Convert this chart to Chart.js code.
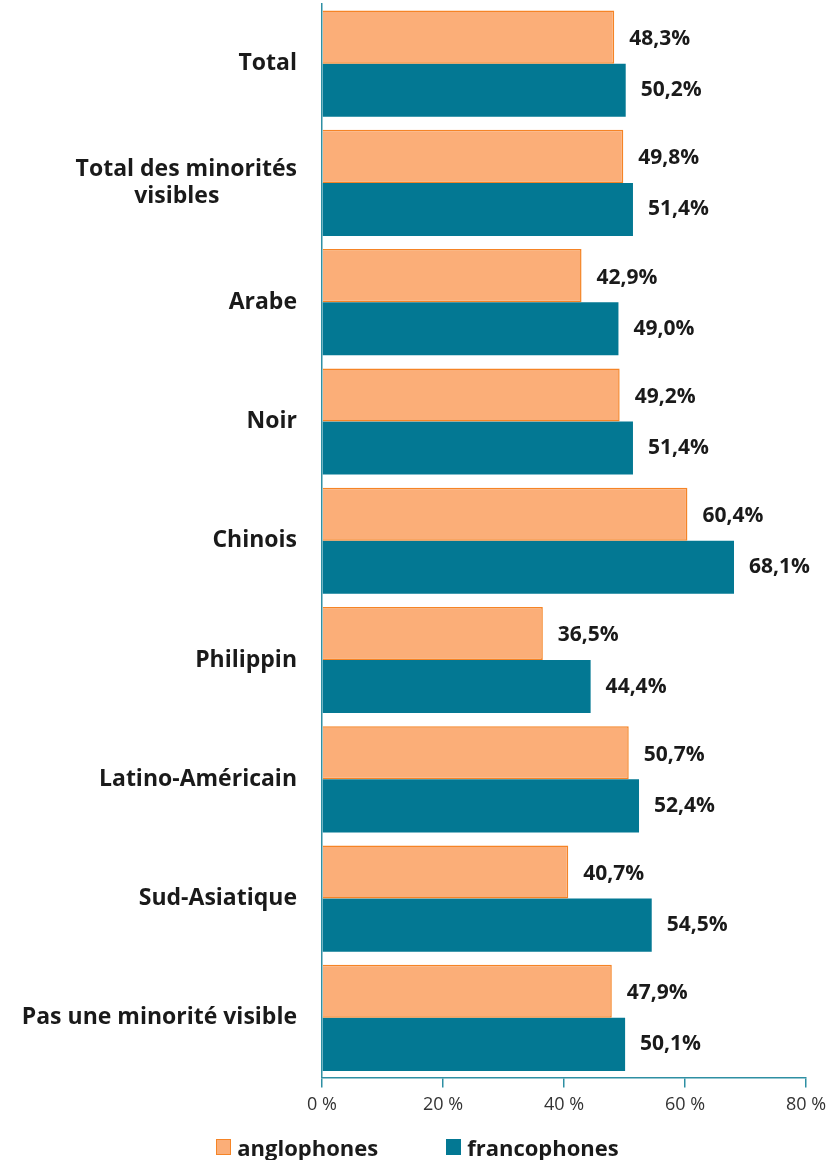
<!DOCTYPE html>
<html>
<head>
<meta charset="utf-8">
<script src="https://cdn.jsdelivr.net/npm/chart.js@4.4.1/dist/chart.umd.min.js"></script>
<style>
html,body{margin:0;padding:0;background:#fff;}
#wrap{position:relative;width:835px;height:1160px;}
#legend{position:absolute;left:0;top:1133px;width:835px;display:flex;justify-content:center;align-items:center;font-family:"Open Sans",Lato,sans-serif;font-weight:bold;font-size:22px;color:#1a1a1a;line-height:28px;}
.item{display:flex;align-items:center;}
.box{width:15px;height:16px;margin-right:6px;box-sizing:border-box;}
</style>
</head>
<body>
<div id="wrap">
<canvas id="c" width="835" height="1160"></canvas>
<div id="legend"></div>
</div>
<script>
const categories = [
  "Total",
  ["Total des minorités", "visibles\u00A0\u00A0\u00A0\u00A0\u00A0\u00A0\u00A0\u00A0\u00A0\u00A0\u00A0\u00A0\u00A0"],
  "Arabe",
  "Noir",
  "Chinois",
  "Philippin",
  "Latino-Américain",
  "Sud-Asiatique",
  "Pas une minorité visible"
];
const seriesNames = ["anglophones", "francophones"];
const anglophones = [48.3, 49.8, 42.9, 49.2, 60.4, 36.5, 50.7, 40.7, 47.9];
const francophones = [50.2, 51.4, 49.0, 51.4, 68.1, 44.4, 52.4, 54.5, 50.1];
const xTicks = [0, 20, 40, 60, 80];

const ORANGE_FILL = "#FBAE78";
const ORANGE_LINE = "#F58426";
const TEAL = "#037893";
const AXIS = "#2E8FA3";
const FONT = "'Open Sans', Lato, sans-serif";

const fmt = v => v.toFixed(1).replace('.', ',') + '%';

const labelPlugin = {
  id: 'barLabels',
  afterDatasetsDraw(chart) {
    const ctx = chart.ctx;
    ctx.save();
    ctx.font = "bold 21px " + FONT;
    ctx.fillStyle = "#1a1a1a";
    ctx.textAlign = "left";
    ctx.textBaseline = "middle";
    chart.data.datasets.forEach((ds, di) => {
      const meta = chart.getDatasetMeta(di);
      meta.data.forEach((el, i) => {
        ctx.fillText(fmt(ds.data[i]), el.x + 15, el.y + (di === 0 ? 2 : 0));
      });
    });
    ctx.restore();
  }
};

const chart = new Chart(document.getElementById('c'), {
  type: 'bar',
  data: {
    labels: categories,
    datasets: [
      { label: seriesNames[0], data: anglophones, backgroundColor: ORANGE_FILL, borderColor: ORANGE_LINE, borderWidth: 1.5, borderSkipped: 'start' },
      { label: seriesNames[1], data: francophones, backgroundColor: TEAL, borderWidth: 0 }
    ]
  },
  options: {
    indexAxis: 'y',
    responsive: false,
    animation: false,
    layout: { padding: { top: 4, right: 29, left: 0, bottom: 0 } },
    datasets: { bar: { categoryPercentage: 0.89, barPercentage: 1.0 } },
    plugins: { legend: { display: false }, tooltip: { enabled: false } },
    scales: {
      x: {
        min: 0, max: 80,
        afterBuildTicks: s => { s.ticks = xTicks.map(v => ({ value: v })); },
        ticks: { callback: v => v + ' %', color: '#333', font: { family: FONT, size: 18 }, padding: 7 },
        grid: { display: true, drawOnChartArea: false, drawTicks: true, tickLength: 10, color: AXIS, lineWidth: 1.5 },
        border: { display: true, color: AXIS, width: 1.5 },
        afterFit: s => { s.height = 82.5; s.paddingLeft = 0; s.paddingRight = 0; }
      },
      y: {
        ticks: { color: '#1a1a1a', font: { family: FONT, size: 23, weight: 'bold', lineHeight: 1.15 }, padding: 25 },
        grid: { display: false, drawTicks: false },
        border: { display: true, color: AXIS, width: 1.5 },
        afterFit: s => { s.width = 322; s.paddingTop = 0; s.paddingBottom = 0; }
      }
    }
  },
  plugins: [labelPlugin]
});

const lg = document.getElementById('legend');
chart.data.datasets.forEach((ds, i) => {
  const it = document.createElement('div');
  it.className = 'item';
  if (i > 0) it.style.marginLeft = '68px';
  const b = document.createElement('span');
  b.className = 'box';
  b.style.background = ds.backgroundColor;
  b.style.border = i === 0 ? '1.5px solid ' + ORANGE_LINE : 'none';
  const t = document.createElement('span');
  t.textContent = ds.label;
  it.appendChild(b); it.appendChild(t);
  lg.appendChild(it);
});
</script>
</body>
</html>
